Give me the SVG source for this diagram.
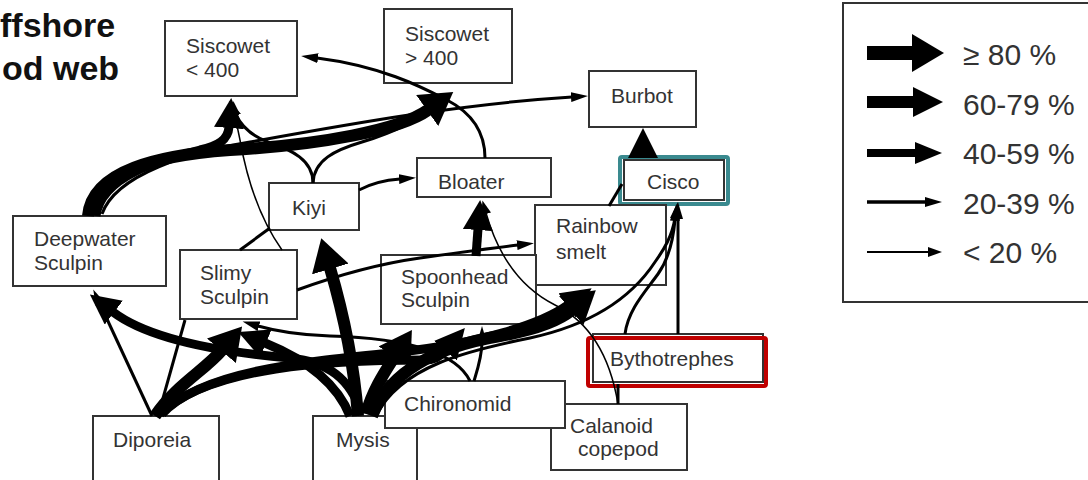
<svg xmlns="http://www.w3.org/2000/svg" width="1088" height="480" viewBox="0 0 1088 480">
<style>
.box{fill:#fff;stroke:#333;stroke-width:2}
.lbl{font-family:"Liberation Sans",Arial,sans-serif;font-size:21px;fill:#333}
.title{font-family:"Liberation Sans",Arial,sans-serif;font-size:34px;font-weight:bold;fill:#111}
.leg{font-family:"Liberation Sans",Arial,sans-serif;font-size:30px;fill:#333}
.c{fill:none;stroke:#000;stroke-linecap:butt}
.w5{stroke-width:12}.w4{stroke-width:9}.w3{stroke-width:6}.w2{stroke-width:3}.w1{stroke-width:1.5}
.a5{marker-end:url(#m5)}.a4{marker-end:url(#m4)}.a3{marker-end:url(#m3)}.a2{marker-end:url(#m2)}.a1{marker-end:url(#m1)}
</style>
<defs>
<marker id="m5" markerUnits="userSpaceOnUse" markerWidth="33" markerHeight="38" refX="1" refY="19" orient="auto"><path d="M0,0 L32,19 L0,38 Z" fill="#000"/></marker>
<marker id="m4" markerUnits="userSpaceOnUse" markerWidth="31" markerHeight="30" refX="1" refY="15" orient="auto"><path d="M0,0 L30,15 L0,30 Z" fill="#000"/></marker>
<marker id="m3" markerUnits="userSpaceOnUse" markerWidth="28" markerHeight="22" refX="1" refY="11" orient="auto"><path d="M0,0 L27,11 L0,22 Z" fill="#000"/></marker>
<marker id="m2" markerUnits="userSpaceOnUse" markerWidth="18" markerHeight="10" refX="1" refY="5" orient="auto"><path d="M0,0 L17,5 L0,10 Z" fill="#000"/></marker>
<marker id="m1" markerUnits="userSpaceOnUse" markerWidth="15" markerHeight="10" refX="1" refY="5" orient="auto"><path d="M0,0 L14,5 L0,10 Z" fill="#000"/></marker>
</defs>
<rect width="1088" height="480" fill="#fff"/>
<g id="title">
<text class="title" x="0" y="37">ffshore</text>
<text class="title" x="2" y="80">od web</text>
</g>
<g id="siscowet-small"><rect class="box" x="165" y="21" width="132" height="75"/><text class="lbl" x="186" y="53">Siscowet</text><text class="lbl" x="186" y="77">&lt; 400</text></g>
<g id="siscowet-large"><rect class="box" x="384" y="9" width="128" height="74"/><text class="lbl" x="405" y="41">Siscowet</text><text class="lbl" x="405" y="65">&gt; 400</text></g>
<g id="burbot"><rect class="box" x="589" y="71" width="107" height="56"/><text class="lbl" x="611" y="103">Burbot</text></g>
<g id="bloater"><rect class="box" x="417" y="158" width="134" height="39"/><text class="lbl" x="438" y="189">Bloater</text></g>
<g id="cisco"><rect class="box" x="624" y="160" width="100" height="40"/><rect x="620" y="157" width="108" height="47" fill="none" stroke="#3a8a8f" stroke-width="4" rx="2"/><text class="lbl" x="647" y="189">Cisco</text></g>
<g id="kiyi"><rect class="box" x="269" y="183" width="90" height="47"/><text class="lbl" x="292" y="215">Kiyi</text></g>
<g id="deepwater-sculpin"><rect class="box" x="13" y="216" width="153" height="70"/><text class="lbl" x="34" y="246">Deepwater</text><text class="lbl" x="34" y="270">Sculpin</text></g>
<g id="slimy-sculpin"><rect class="box" x="180" y="250" width="117" height="69"/><text class="lbl" x="200" y="280">Slimy</text><text class="lbl" x="200" y="304">Sculpin</text></g>
<g id="rainbow-smelt"><rect class="box" x="535" y="205" width="131" height="80"/><text class="lbl" x="556" y="233">Rainbow</text><text class="lbl" x="556" y="259">smelt</text></g>
<g id="spoonhead-sculpin"><rect class="box" x="381" y="255" width="155" height="69"/><text class="lbl" x="401" y="284">Spoonhead</text><text class="lbl" x="401" y="307">Sculpin</text></g>
<g id="bythotrephes"><rect class="box" x="593" y="334" width="170" height="48"/><rect x="588" y="338" width="178" height="48" fill="none" stroke="#c00000" stroke-width="4" rx="2"/><text class="lbl" x="610" y="366">Bythotrephes</text></g>
<g id="diporeia"><rect class="box" x="93" y="416" width="126" height="70"/><text class="lbl" x="113" y="447">Diporeia</text></g>
<g id="mysis"><rect class="box" x="313" y="416" width="104" height="70"/><text class="lbl" x="336" y="447">Mysis</text></g>
<g id="calanoid-copepod"><rect class="box" x="551" y="404" width="136" height="66"/><text class="lbl" x="570" y="433">Calanoid</text><text class="lbl" x="578" y="456">copepod</text></g>
<g id="chironomid"><rect class="box" x="385" y="381" width="180" height="47"/><text class="lbl" x="404" y="411">Chironomid</text></g>
<g id="connectors">
<path class="c w5 a5" d="M88,216 C92,170 160,155 230,150 C320,145 400,130 428,110"/>
<path class="c w4 a4" d="M96,216 C101,176 160,160 200,150 C218,146 228,140 229,127"/>
<path class="c w2 a2" d="M102,214 C116,174 190,152 250,142 C350,124 460,104 572,97"/>
<path class="c w2 a2" d="M313,183 C313,160 292,150 268,142 C252,136 242,127 236,115"/>
<path class="c w2 a2" d="M313,183 C314,160 335,150 362,142 C398,131 423,117 438,104"/>
<path class="c w2 a2" d="M485,158 C485,130 470,112 447,100 C420,86 380,66 317,58"/>
<path class="c w2 a2" d="M359,190 C372,183 386,180 400,179"/>
<path class="c w1 a1" d="M282,250 C262,222 248,185 240,140 C238,130 236,122 235,114"/>
<path class="c w2" d="M240,250 L270,228"/>
<path class="c w2 a2" d="M297,290 C330,278 370,265 420,258 C470,251 500,247 518,245"/>
<path class="c w4 a4" d="M476,256 L478,229"/>
<path class="c w1 a1" d="M618,404 C612,368 596,325 555,305 C525,290 500,262 486,213"/>
<path class="c w5 a5" d="M372,416 C390,370 440,346 500,336 C540,329 560,320 572,310"/>
<path class="c w2 a2" d="M376,416 C400,366 470,350 530,338 C590,325 630,300 655,262 C665,248 672,236 675,218"/>
<path class="c w2 a2" d="M678,334 L678,218"/>
<path class="c w2 a2" d="M625,334 C628,310 645,292 658,274 C668,260 673,242 675,220"/>
<path class="c w2" d="M618,404 L618,384"/>
<path class="c w4 a4" d="M643,157.5 L643,157"/>
<path class="c w2" d="M609,206 L622,184"/>
<path class="c w5 a5" d="M358,416 C353,352 340,302 330,268"/>
<path class="c w4 a4" d="M350,416 C335,378 297,356 265,343"/>
<path class="c w4 a4" d="M362,414 C350,378 328,362 290,358 C220,352 150,340 113,312"/>
<path class="c w2 a2" d="M152,416 L100,304"/>
<path class="c w5 a5" d="M155,416 C175,386 205,370 222,350"/>
<path class="c w2" d="M158,416 L185,320"/>
<path class="c w4 a4" d="M160,414 C210,366 330,360 425,360 C433,360 440,357 446,350"/>
<path class="c w4 a4" d="M162,414 C200,372 300,362 400,352 C480,343 540,325 568,305"/>
<path class="c w5 a5" d="M366,414 C372,392 382,376 395,356"/>
<path class="c w2 a2" d="M470,381 C455,350 400,338 330,336 C295,335 272,330 258,326"/>
<path class="c w2 a2" d="M474,381 C478,368 482,356 482,342"/>
</g>
<g id="legend">
<rect x="843" y="3" width="260" height="299" fill="#fff" stroke="#333" stroke-width="2"/>
<path class="c a5" stroke-width="14" d="M867,53 L913,53"/>
<path class="c a4" stroke-width="12" d="M867,102 L914,102"/>
<path class="c a3" stroke-width="8" d="M867,153 L916,153"/>
<path class="c a2" stroke-width="3.5" d="M867,202 L926,202"/>
<path class="c a1" stroke-width="1.8" d="M867,252 L929,252"/>
<text class="leg" x="963" y="65">≥ 80 %</text>
<text class="leg" x="963" y="115">60-79 %</text>
<text class="leg" x="963" y="164">40-59 %</text>
<text class="leg" x="963" y="214">20-39 %</text>
<text class="leg" x="963" y="263">&lt; 20 %</text>
</g>
</svg>
